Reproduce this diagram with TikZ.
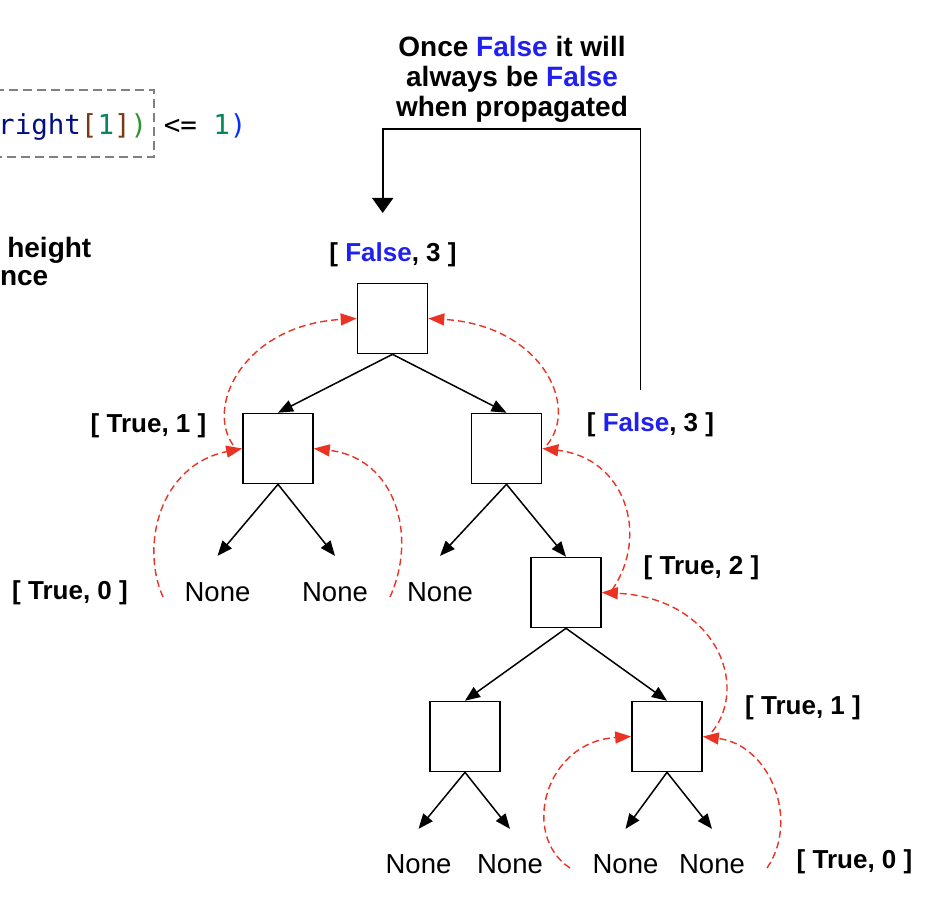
\documentclass[tikz,border=0pt]{standalone}
\usepackage{fontspec}
\setmainfont{Liberation Sans}
\newfontfamily\codefont{DejaVu Sans Mono}
\usetikzlibrary{arrows.meta}
\definecolor{fblue}{RGB}{32,32,240}
\definecolor{propred}{RGB}{234,51,35}
\definecolor{cnavy}{RGB}{0,16,128}
\definecolor{cbrown}{RGB}{123,56,20}
\definecolor{cgreen}{RGB}{9,134,88}
\definecolor{cpgreen}{RGB}{49,147,49}
\definecolor{cblue}{RGB}{4,49,250}
\definecolor{boxgray}{RGB}{128,128,128}
\begin{document}
\begin{tikzpicture}[x=1pt,y=-1pt,
  treebox/.style={draw=black,line width=1.6pt,minimum size=70pt,inner sep=0pt,fill=white},
  treearrow/.style={line width=1.5pt,-{Triangle[length=15pt,width=12pt]}},
  leaf/.style={font=\fontsize{27.5}{30}\selectfont,inner sep=0pt,anchor=base},
  lbl/.style={font=\fontsize{26}{30}\selectfont\bfseries,inner sep=0pt,anchor=base},
  sidetext/.style={font=\fontsize{28}{30}\selectfont\bfseries,inner sep=0pt,anchor=base east},
  prop/.style={draw=propred,line width=1.4pt,dash pattern=on 7pt off 4pt,-{Triangle[length=16pt,width=12pt]}},
  annot/.style={line width=1.8pt,-{Triangle[length=15pt,width=21pt]}}
]
\useasboundingbox (0,0) rectangle (930,900);

% code fragment
\draw[draw=boxgray,line width=1.4pt,dash pattern=on 9pt off 5pt] (-10,90) rectangle (154,157);
\node[anchor=base west,inner sep=0pt,font=\codefont\fontsize{27.5}{30}\selectfont] (code) at (-2,134.3)
  {\textcolor{cnavy}{right}\textcolor{cbrown}{[}\textcolor{cgreen}{1}\textcolor{cbrown}{]}\textcolor{cpgreen}{)} <= \textcolor{cgreen}{1}\textcolor{cblue}{)}};

% side text
\node[sidetext] (h1) at (91.5,257) {height};
\node[sidetext] (h2) at (48.5,285) {nce};

% top note
\node[anchor=north,inner sep=0pt,align=center,font=\fontsize{28}{30}\selectfont\bfseries] (note) at (512,36.5)
  {Once \textcolor{fblue}{False} it will\\always be \textcolor{fblue}{False}\\when propagated};

% boxes
\node[treebox] (root) at (392.5,318.5) {};
\node[treebox] (l1) at (278,448.5) {};
\node[treebox] (r1) at (506.5,448.5) {};
\node[treebox] (r2) at (566,592.5) {};
\node[treebox] (bl) at (465,736.5) {};
\node[treebox] (br) at (667,736.5) {};

% leaves
\node[leaf] (n1) at (217.5,601) {None};
\node[leaf] (n2) at (335,601) {None};
\node[leaf] (n3) at (440,601) {None};
\node[leaf] (n4) at (418.5,873) {None};
\node[leaf] (n5) at (510,873) {None};
\node[leaf] (n6) at (625.5,873) {None};
\node[leaf] (n7) at (712,873) {None};

% labels
\node[lbl] (ft) at (393,261) {[ \textcolor{fblue}{False}, 3 ]};
\node[lbl] (tl1) at (148.5,432) {[ True, 1 ]};
\node[lbl] (fr) at (650.5,431) {[ \textcolor{fblue}{False}, 3 ]};
\node[lbl] (tl0) at (70,599) {[ True, 0 ]};
\node[lbl] (t2) at (701.5,574) {[ True, 2 ]};
\node[lbl] (tr1) at (803,714) {[ True, 1 ]};
\node[lbl] (tr0) at (854.5,868) {[ True, 0 ]};

% tree arrows
\draw[treearrow] (root.south) -- (l1.north);
\draw[treearrow] (root.south) -- (r1.north);
\draw[treearrow] (l1.south) -- ([yshift=26pt]n1.north);
\draw[treearrow] (l1.south) -- ([yshift=26pt]n2.north);
\draw[treearrow] (r1.south) -- ([yshift=26pt]n3.north);
\draw[treearrow] (r1.south) -- (r2.north);
\draw[treearrow] (r2.south) -- (bl.north);
\draw[treearrow] (r2.south) -- (br.north);
\draw[treearrow] (bl.south) -- ([yshift=25pt]n4.north);
\draw[treearrow] (bl.south) -- ([yshift=25pt]n5.north);
\draw[treearrow] (br.south) -- ([yshift=25pt]n6.north);
\draw[treearrow] (br.south) -- ([yshift=25pt]n7.north);

% propagation curves
\coordinate (c1) at (233,445);
\coordinate (c2) at (547,445);
\coordinate (c3) at (163,597);
\coordinate (c4) at (390,597);
\coordinate (c5) at (612,590);
\coordinate (c6) at (712,732);
\coordinate (c7) at (570,868);
\coordinate (c8) at (767,868);
\draw[prop] (c1) .. controls (205,405) and (245,325) .. (root.west);
\draw[prop] (c2) .. controls (580,405) and (540,325) .. (root.east);
\draw[prop] (c3) .. controls (140,545) and (160,465) .. (l1.west);
\draw[prop] (c4) .. controls (418,535) and (395,458) .. (l1.east);
\draw[prop] (c5) .. controls (650,535) and (625,458) .. (r1.east);
\draw[prop] (c6) .. controls (750,685) and (715,598) .. (r2.east);
\draw[prop] (c7) .. controls (520,835) and (545,742) .. (br.west);
\draw[prop] (c8) .. controls (800,820) and (770,745) .. (br.east);

% annotation arrow
\draw[annot] ([xshift=-10pt,yshift=22pt]fr.north) -- ++(0,-261) -| ([xshift=-10.3pt,yshift=29pt]ft.north);
\end{tikzpicture}
\end{document}
